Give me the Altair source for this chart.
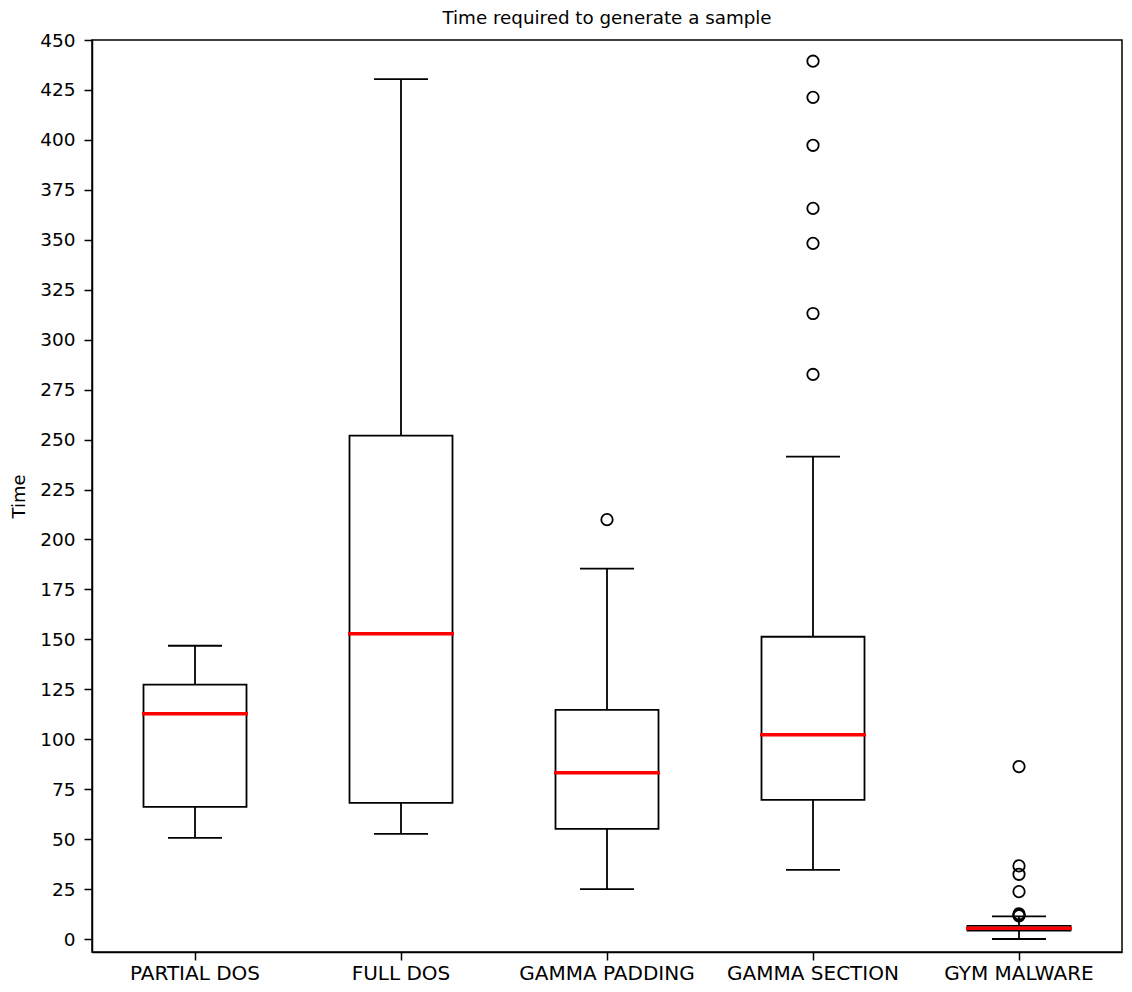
import altair as alt
import pandas as pd

categories = ["PARTIAL DOS", "FULL DOS", "GAMMA PADDING", "GAMMA SECTION", "GYM MALWARE"]
whisker_low = [50.6, 52.6, 25.0, 34.6, 0.0]
q1 = [66.1, 68.1, 55.1, 69.6, 4.2]
median = [112.7, 152.8, 83.2, 102.2, 5.4]
q3 = [127.3, 252.0, 114.7, 151.3, 6.6]
whisker_high = [146.8, 430.4, 185.4, 241.5, 11.3]

outlier_cat = ["GAMMA PADDING",
               "GAMMA SECTION", "GAMMA SECTION", "GAMMA SECTION", "GAMMA SECTION",
               "GAMMA SECTION", "GAMMA SECTION", "GAMMA SECTION",
               "GYM MALWARE", "GYM MALWARE", "GYM MALWARE", "GYM MALWARE",
               "GYM MALWARE", "GYM MALWARE", "GYM MALWARE"]
outlier_val = [209.9,
               439.4, 421.3, 397.3, 365.7, 348.2, 313.1, 282.6,
               86.3, 36.6, 32.4, 23.7, 12.6, 12.0, 11.6]

box_df = pd.DataFrame({
    "cat": categories, "low": whisker_low, "q1": q1, "med": median,
    "q3": q3, "high": whisker_high,
})
out_df = pd.DataFrame({"cat": outlier_cat, "val": outlier_val})

x_enc = alt.X("cat:N", sort=categories,
              scale=alt.Scale(paddingInner=0, paddingOuter=0),
              axis=alt.Axis(title=None, labelAngle=0, labelFontSize=20, labelPadding=3))
y_scale = alt.Scale(domain=[-6.5, 450], nice=False, zero=False)
y_axis = alt.Axis(title="Time", values=list(range(0, 451, 25)),
                  labelFontSize=18.5, labelPadding=9, titlePadding=11, titleFontSize=18)

base = alt.Chart(box_df)

whisk_lo = base.mark_rule(color="black", strokeWidth=1.8).encode(
    x=x_enc, y=alt.Y("low:Q", scale=y_scale, axis=y_axis), y2="q1:Q")
whisk_hi = base.mark_rule(color="black", strokeWidth=1.8).encode(
    x=x_enc, y=alt.Y("q3:Q", scale=y_scale), y2="high:Q")
cap_lo = base.mark_tick(color="black", size=54, thickness=1.8, orient="horizontal",
                        opacity=1).encode(
    x=x_enc, y=alt.Y("low:Q", scale=y_scale))
cap_hi = base.mark_tick(color="black", size=54, thickness=1.8, orient="horizontal",
                        opacity=1).encode(
    x=x_enc, y=alt.Y("high:Q", scale=y_scale))
box = base.mark_bar(width={"band": 0.5}, fill="white", stroke="black", strokeWidth=1.8,
                    opacity=1).encode(
    x=x_enc, y=alt.Y("q1:Q", scale=y_scale), y2="q3:Q")
med = base.mark_tick(color="#ff0000", size=106, thickness=3.5, orient="horizontal",
                     opacity=1).encode(
    x=x_enc, y=alt.Y("med:Q", scale=y_scale))
outs = alt.Chart(out_df).mark_point(shape="circle", filled=False, color="black",
                                     size=130, strokeWidth=1.8, opacity=1).encode(
    x=x_enc, y=alt.Y("val:Q", scale=y_scale))

chart = alt.layer(whisk_lo, whisk_hi, cap_lo, cap_hi, box, med, outs).properties(
    width=1030, height=912,
    title=alt.TitleParams("Time required to generate a sample", fontSize=18.3,
                          font="DejaVu Sans", fontWeight="normal", color="black",
                          offset=3, anchor="middle", frame="group"),
    autosize=alt.AutoSizeParams(type="none"),
    padding={"left": 84, "top": 32, "right": 2, "bottom": 32},
).configure_view(
    stroke="black", strokeWidth=1.5
).configure_axis(
    grid=False, domainColor="black", domainWidth=1.5, tickColor="black",
    tickWidth=1.5, tickSize=8, labelFont="DejaVu Sans",
    labelColor="black", titleFont="DejaVu Sans",
    titleFontWeight="normal", titleColor="black",
)

chart.save("out.html", embed_options={"renderer": "svg", "actions": False})
